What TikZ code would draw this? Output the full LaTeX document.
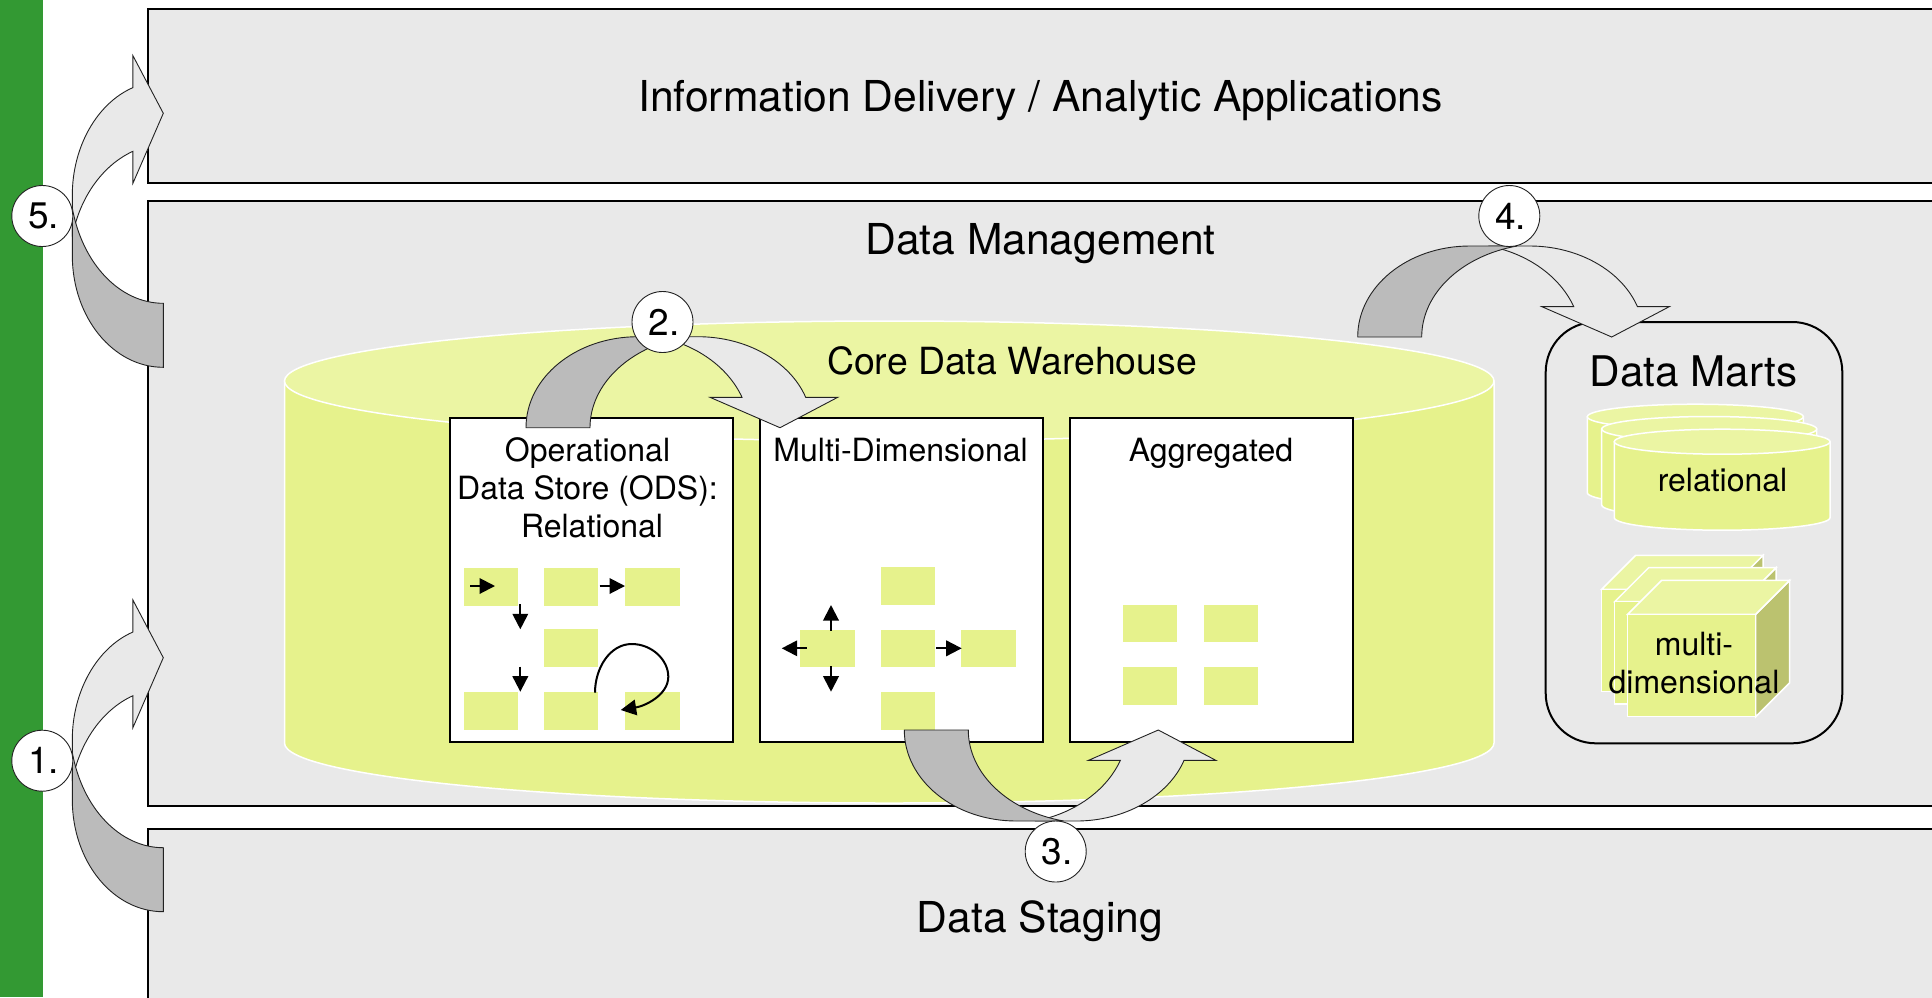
\documentclass[tikz,border=0pt]{standalone}
\usepackage{fontspec}
\setmainfont{TeX Gyre Heros}
\usetikzlibrary{arrows.meta}
\definecolor{bandgray}{HTML}{E9E9E9}
\definecolor{tailgray}{HTML}{BBBBBB}
\definecolor{barGreen}{HTML}{339933}
\definecolor{dbbody}{HTML}{E6F28C}
\definecolor{dbtop}{HTML}{EBF5A3}
\definecolor{dbside}{HTML}{BBC26F}
\definecolor{arrowline}{HTML}{222222}
\tikzset{
  band/.style={draw=black,line width=2pt,fill=bandgray},
  dbline/.style={draw=white,line width=1.5pt},
  panel/.style={draw=black,line width=2pt,fill=white},
  chip/.style={fill=dbbody,draw=none,inner sep=0pt,minimum width=54pt,minimum height=37.5pt},
  flow/.style={draw=black,line width=2pt,-{Triangle[length=15.5pt,width=15.5pt]},shorten >=0pt},
  stepmark/.style={circle,draw=arrowline,line width=0.9pt,fill=white,minimum size=61pt,inner sep=0pt,font=\fontsize{37}{37}\selectfont},
  head/.style={font=\fontsize{42.6}{46}\selectfont,anchor=center},
  sub/.style={font=\fontsize{37.4}{40}\selectfont,anchor=center},
  marts/.style={font=\fontsize{42.2}{46}\selectfont,anchor=center},
  small/.style={font=\fontsize{32}{38}\selectfont,align=center,anchor=base},
  uline/.style={draw=arrowline,line width=0.9pt}
}
\newcommand{\stepnum}[1]{\hspace*{3pt}\raisebox{-1.5pt}{#1}}
% U-turn block arrow, local origin at the tip
\newcommand{\uturn}[1]{%
  \begin{scope}[#1]
    \path[uline,fill=bandgray] (-123.3,-91) -- (-82,-91)
      .. controls (-33.4,-91) and (10,-66.3) .. (25.7,-30.4)
      -- (57.7,-30.4) -- (0,0) -- (-70,-30.4) -- (-38,-30.4)
      .. controls (-51.9,-60.7) and (-84.2,-83.7) .. (-123.3,-91) -- cycle;
    \path[uline,fill=tailgray] (-254,0)
      .. controls (-254,-50.3) and (-204,-91) .. (-142,-91)
      -- (-94.7,-91)
      .. controls (-150.6,-81) and (-190,-43.3) .. (-190,0) -- cycle;
  \end{scope}}
% cylinder: left, right, y of top ellipse centre, y of bottom ellipse centre, rx, ry
\newcommand{\dbcyl}[6]{%
  \path[dbline,fill=dbbody] (#1,#3) -- (#1,#4)
     arc[start angle=180,end angle=360,x radius=#5pt,y radius=#6pt] -- (#2,#3) -- cycle;
  \path[dbline,fill=dbtop] (#1,#3) arc[start angle=180,end angle=-180,x radius=#5pt,y radius=#6pt] -- cycle;}
% cube: front-left x, front-right x, front-top y, front-bottom y
\newcommand{\dbcube}[4]{%
  \path[dbline,fill=dbside] (#2,#3) -- ++(34,-34) -- ++(0,#4-#3) -- (#2,#4) -- cycle;
  \path[dbline,fill=dbtop] (#1,#3) -- ++(34,-34) -- ++(#2-#1,0) -- (#2,#3) -- cycle;
  \path[dbline,fill=dbbody] (#1,#3) rectangle (#2,#4);}
\begin{document}
\begin{tikzpicture}[x=1pt,y=-1pt]
\useasboundingbox (0,0) rectangle (1932,997);
\fill[white] (0,0) rectangle (1932,997);
\fill[barGreen] (0,0) rectangle (43,997);
% bands
\path[band] (147.5,8.5) rectangle (1945,182.5);
\path[band] (147.5,201) rectangle (1945,806);
\path[band] (147.5,828.5) rectangle (1945,1010);
% core warehouse cylinder
\dbcyl{284.5}{1494}{381}{743}{604.75}{60}
% panels
\path[panel] (450,418) rectangle (733,741.7);
\path[panel] (759.5,418) rectangle (1042.7,741.7);
\path[panel] (1070,418) rectangle (1352.7,741.7);
% ODS chips
\node[chip,minimum width=54pt] (o1) at (491,586.8) {};
\node[chip] (o2) at (571,586.8) {};
\node[chip,minimum width=55pt] (o3) at (652.5,586.8) {};
\node[chip] (o4) at (571,648) {};
\node[chip] (o5) at (491,711) {};
\node[chip] (o6) at (571,711) {};
\node[chip,minimum width=55pt] (o7) at (652.5,711) {};
% multi-dimensional chips
\node[chip] (m1) at (908,586) {};
\node[chip,minimum width=55pt] (m2) at (827.5,648.5) {};
\node[chip] (m3) at (908,648.5) {};
\node[chip,minimum width=55pt] (m4) at (988.5,648.5) {};
\node[chip] (m5) at (908,711) {};
% aggregated chips
\node[chip] (g1) at (1150,623.5) {};
\node[chip] (g2) at (1231,623.5) {};
\node[chip] (g3) at (1150,686) {};
\node[chip] (g4) at (1231,686) {};
% small flow arrows
\coordinate (fa) at (470,586);
\coordinate (fb) at (495,586);
\coordinate (fc) at (599.5,586);
\coordinate (fd) at (625,586);
\coordinate (fe) at (520.3,604);
\coordinate (ff) at (520.3,629.3);
\coordinate (fg) at (520.3,666.7);
\coordinate (fh) at (520.3,691.7);
\coordinate (fi) at (595,692.7);
\coordinate (fj) at (620.7,710);
\draw[flow] (fa) -- (fb);
\draw[flow] (fc) -- (fd);
\draw[flow] (fe) -- (ff);
\draw[flow] (fg) -- (fh);
\draw[flow] (fi) .. controls (595,668) and (610,644) .. (631.7,644)
   .. controls (652,644) and (668.3,660) .. (668.3,676.7)
   .. controls (668.3,695) and (645,706) .. (fj);
\coordinate (ga) at (831,630.7);
\coordinate (gb) at (831,605);
\coordinate (gc) at (806.7,648.3);
\coordinate (gd) at (781.7,648.3);
\coordinate (ge) at (831,666);
\coordinate (gf) at (831,691.7);
\coordinate (gg) at (936,648.3);
\coordinate (gh) at (961.7,648.3);
\draw[flow] (ga) -- (gb);
\draw[flow] (gc) -- (gd);
\draw[flow] (ge) -- (gf);
\draw[flow] (gg) -- (gh);
% data marts
\draw[black,line width=2pt,rounded corners=50pt] (1545.7,322) rectangle (1842.3,743.3);
\dbcyl{1587.3}{1803.3}{416.7}{492.7}{108}{12.5}
\dbcyl{1601.7}{1816.7}{429}{505}{107.5}{12.5}
\dbcyl{1614.3}{1830}{441.7}{517.7}{107.85}{12.5}
\dbcube{1601.7}{1729}{589.3}{691.7}
\dbcube{1614.7}{1742}{601.7}{704}
\dbcube{1627.7}{1755.7}{614.3}{716.7}
% labels
\node[head] (tinfo) at (1040.5,101) {Information Delivery / Analytic Applications};
\node[head] (tmgmt) at (1040.5,243.5) {Data Management};
\node[head] (tstag) at (1040,921) {Data Staging};
\node[sub] (tcore) at (1012,361) {Core Data Warehouse};
\node[marts] (tmarts) at (1693.5,371.5) {Data Marts};
\node[small] (tods) at (587.5,537) {Operational\\Data Store (ODS):\\\hspace*{9pt}Relational};
\node[small] (tmd) at (900.6,461.5) {Multi-Dimensional};
\node[small] (tagg) at (1211,461.5) {Aggregated};
\node[small] (trel) at (1722.5,491) {relational};
\node[small] (tmulti) at (1694,693) {multi-\\dimensional};
% block arrows
\uturn{shift={(163.3,113.3)},x={(0pt,1pt)},y={(1pt,0pt)}}
\uturn{shift={(163.3,657.7)},x={(0pt,1pt)},y={(1pt,0pt)}}
\uturn{shift={(780,427.7)}}
\uturn{shift={(1158.3,730)},y={(0pt,1pt)}}
\uturn{shift={(1611.7,337)}}
% step markers
\node[stepmark] (s5) at (42.3,216) {\stepnum{5.}};
\node[stepmark] (s1) at (42.3,760.7) {\stepnum{1.}};
\node[stepmark] (s2) at (662.5,322) {\stepnum{2.}};
\node[stepmark] (s3) at (1055.7,851.5) {\stepnum{3.}};
\node[stepmark] (s4) at (1509.3,216) {\stepnum{4.}};
\end{tikzpicture}
\end{document}
